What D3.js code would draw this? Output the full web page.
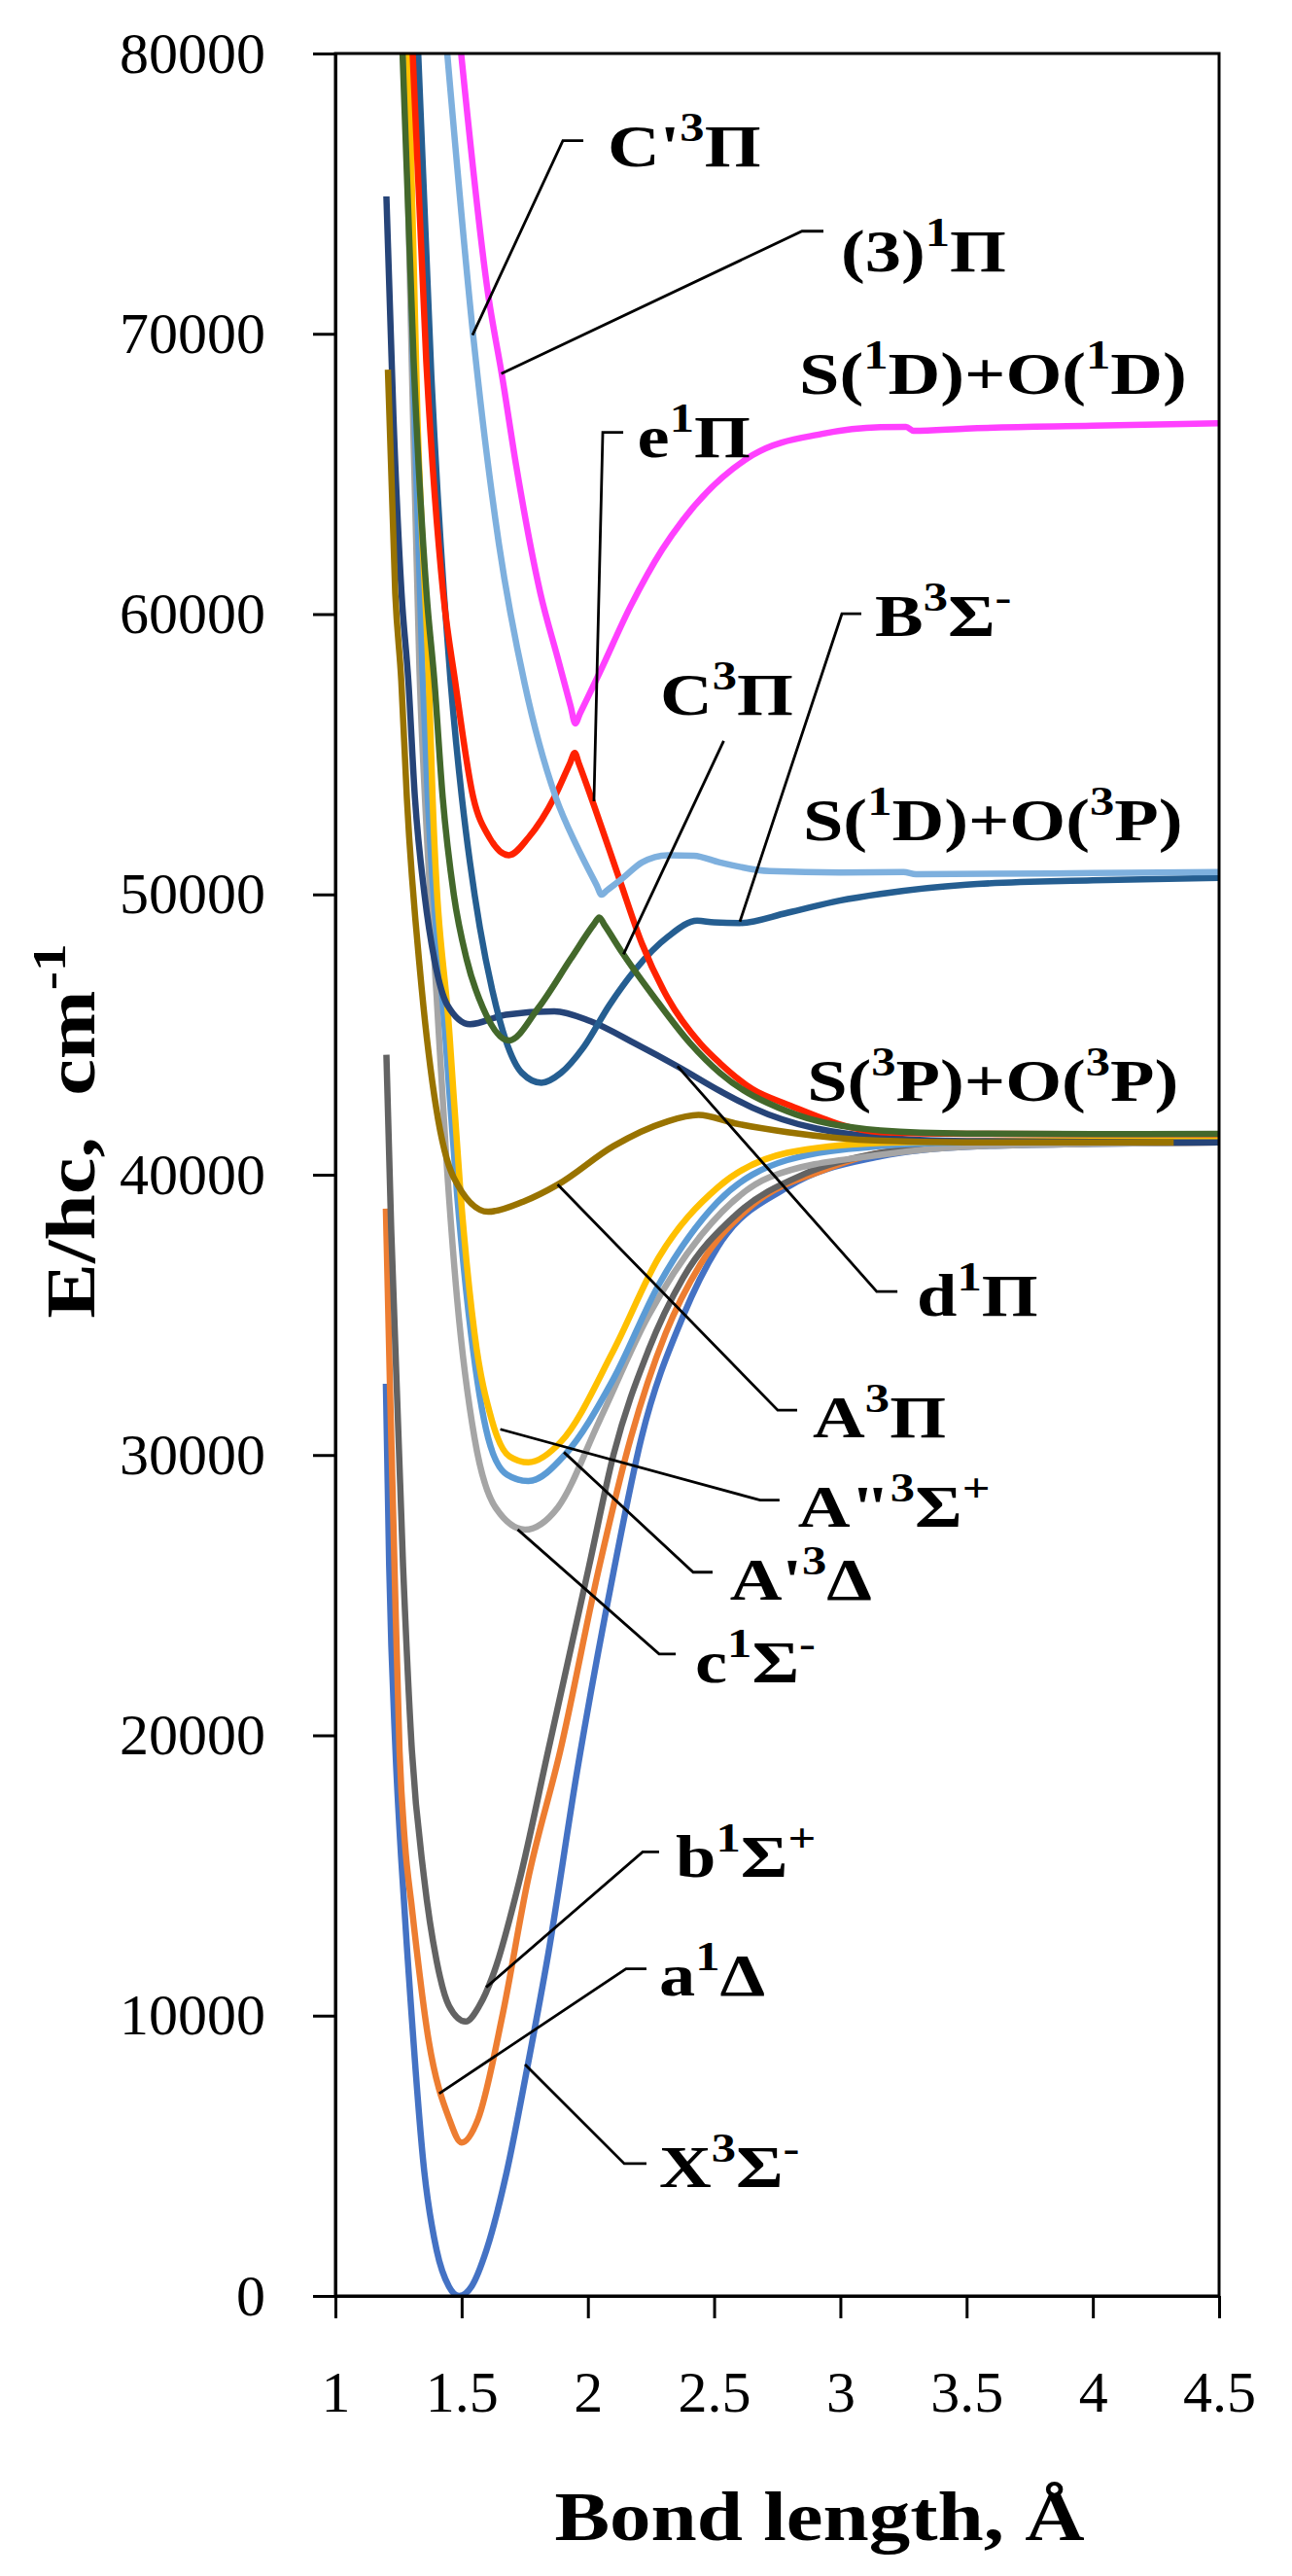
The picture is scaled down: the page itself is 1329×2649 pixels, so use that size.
<!DOCTYPE html>
<html lang="en">
	<head>
		<meta charset="UTF-8">
		<title>SO potential energy curves</title>
		<script src="https://cdnjs.cloudflare.com/ajax/libs/d3/7.8.5/d3.min.js"></script>
		<style>
			body { margin: 0; background: #fff; }
			svg { display: block; }
		</style>
	</head>
	<body>
		<svg id="chart" width="1329" height="2649"></svg>
		<script>
// tick values
var xTicks = [1, 1.5, 2, 2.5, 3, 3.5, 4, 4.5];
var yTicks = [0, 10000, 20000, 30000, 40000, 50000, 60000, 70000, 80000];

// [bond length (Å), E/hc (cm-1)]
var X3SigmaMinus = [[1.2,32540],[1.213,26050],[1.238,19460],[1.26,15700],[1.287,11950],[1.352,4440],[1.401,1630],[1.45,330],[1.49,0],[1.54,350],[1.598,1630],[1.679,4440],[1.761,8190],[1.843,12200],[1.957,18700],[2.101,25800],[2.212,30610],[2.377,34950],[2.515,37430],[2.789,39550],[3.159,40660],[3.5,41000],[4.0,41100],[4.5,41150]];
var a1Delta = [[1.2,38790],[1.216,32500],[1.234,26050],[1.254,19460],[1.275,16200],[1.303,13840],[1.369,9130],[1.451,6310],[1.5,5470],[1.565,6310],[1.663,10070],[1.761,14780],[1.891,19460],[2.046,26050],[2.17,30610],[2.308,34340],[2.446,36810],[2.652,38920],[2.928,40150],[3.159,40780],[3.5,41050],[4.0,41120],[4.5,41150]];
var b1SigmaPlus = [[1.202,44280],[1.221,38060],[1.268,26050],[1.303,19460],[1.35,15000],[1.401,11950],[1.45,10350],[1.516,9790],[1.57,10350],[1.63,11590],[1.728,14780],[1.843,19460],[2.005,26050],[2.101,29990],[2.239,33720],[2.377,36320],[2.583,38540],[2.858,40030],[3.159,40780],[3.5,41050],[4.0,41120],[4.5,41150]];
var c1SigmaMinus = [[1.275,80000],[1.305,68000],[1.333,58000],[1.36,52500],[1.4,46500],[1.44,40500],[1.482,35570],[1.551,30610],[1.634,28130],[1.751,27340],[1.881,28130],[2.046,31230],[2.239,34950],[2.446,37810],[2.72,39910],[3.159,40710],[3.5,41000],[4.0,41100],[4.5,41150]];
var Ap3Delta = [[1.28,80000],[1.31,68000],[1.345,58000],[1.366,53450],[1.435,45000],[1.482,39290],[1.537,34340],[1.605,30610],[1.68,29300],[1.764,29070],[1.909,30010],[2.101,32710],[2.281,36080],[2.515,39040],[2.789,40520],[3.159,41020],[3.5,41150],[4.0,41180],[4.5,41200]];
var App3SigmaPlus = [[1.29,80000],[1.325,67000],[1.37,57620],[1.385,53450],[1.452,45000],[1.496,39290],[1.551,34340],[1.62,31230],[1.69,29950],[1.764,29740],[1.895,30490],[2.101,33720],[2.281,37050],[2.515,39550],[2.789,40780],[3.159,41140],[3.5,41200],[4.0,41220],[4.5,41230]];
var A3Pi = [[1.208,68720],[1.237,60740],[1.261,57620],[1.283,53450],[1.338,47000],[1.399,42390],[1.468,39910],[1.605,38680],[1.744,39040],[1.881,39650],[2.101,41020],[2.308,41880],[2.438,42130],[2.583,41830],[2.79,41520],[3.159,41210],[3.5,41150],[4.0,41150],[4.32,41150]];
var d1Pi = [[1.202,74900],[1.23,67000],[1.262,60740],[1.289,57620],[1.315,53450],[1.353,49990],[1.392,47680],[1.443,46060],[1.533,45370],[1.675,45710],[1.867,45830],[2.009,45480],[2.189,44670],[2.356,43860],[2.523,42990],[2.652,42390],[3.159,41330],[3.5,41200],[4.0,41170],[4.5,41150]];
var B3SigmaMinus = [[1.328,80000],[1.38,68500],[1.43,60740],[1.456,57620],[1.501,53450],[1.533,51140],[1.572,48830],[1.623,46520],[1.675,44790],[1.739,43630],[1.816,43280],[1.893,43630],[1.983,44550],[2.086,46060],[2.189,47330],[2.317,48490],[2.433,49060],[2.5,49000],[2.6,48980],[2.789,49340],[2.997,49780],[3.159,50020],[3.5,50350],[4.0,50500],[4.5,50590]];
var e1Pi = [[1.306,80000],[1.36,69000],[1.427,60740],[1.474,57620],[1.546,53460],[1.61,52030],[1.687,51400],[1.765,52030],[1.867,53460],[1.93,54700],[1.948,55050],[1.965,54650],[2.022,53230],[2.124,50570],[2.214,48250],[2.317,46290],[2.446,44670],[2.523,43980],[2.652,43050],[2.789,42510],[3.159,41520],[3.5,41460],[4.0,41450],[4.5,41450]];
var C3Pi = [[1.266,80000],[1.31,69000],[1.361,60740],[1.392,57620],[1.425,53460],[1.469,49990],[1.52,47680],[1.585,45940],[1.687,44790],[1.803,45940],[1.932,47700],[2.025,48950],[2.045,49180],[2.065,48920],[2.137,47910],[2.266,46290],[2.407,44670],[2.523,43630],[2.79,42260],[3.159,41580],[3.5,41470],[4.0,41450],[4.5,41460]];
var Cp3Pi = [[1.443,80000],[1.545,70000],[1.648,62480],[1.75,57500],[1.873,53460],[1.957,51710],[2.035,50320],[2.054,49990],[2.075,50140],[2.137,50570],[2.214,51140],[2.317,51400],[2.42,51380],[2.523,51140],[2.72,50830],[3.0,50780],[3.25,50800],[3.3,50720],[4.0,50760],[4.5,50800]];
var third1Pi = [[1.498,80000],[1.605,71400],[1.661,68450],[1.716,65300],[1.812,60740],[1.88,58450],[1.932,56700],[1.95,56100],[1.968,56440],[2.046,57900],[2.17,60300],[2.294,62300],[2.376,63350],[2.652,65670],[2.928,66430],[3.159,66670],[3.26,66680],[3.29,66540],[3.5,66620],[4.0,66720],[4.5,66810]];

// drawing order and colours
var curves = [
	{pts: X3SigmaMinus, color: "#4472c4"},
	{pts: a1Delta, color: "#ed7d31"},
	{pts: b1SigmaPlus, color: "#636363"},
	{pts: c1SigmaMinus, color: "#a5a5a5"},
	{pts: Ap3Delta, color: "#5b9bd5"},
	{pts: App3SigmaPlus, color: "#ffc000"},
	{pts: d1Pi, color: "#264478"},
	{pts: A3Pi, color: "#997300"},
	{pts: B3SigmaMinus, color: "#255e91"},
	{pts: e1Pi, color: "#ff2200"},
	{pts: C3Pi, color: "#43682b"},
	{pts: Cp3Pi, color: "#7eb0de"},
	{pts: third1Pi, color: "#ff40ff"}
];

// labels: text, anchor (data units) and leader polyline (data units)
var labelText = ["C'^{3}Π", "(3)^{1}Π", "S(^{1}D)+O(^{1}D)", "e^{1}Π", "C^{3}Π", "B^{3}Σ^{-}", "S(^{1}D)+O(^{3}P)", "S(^{3}P)+O(^{3}P)", "d^{1}Π", "A^{3}Π", "A\"^{3}Σ^{+}", "A'^{3}Δ", "c^{1}Σ^{-}", "b^{1}Σ^{+}", "a^{1}Δ", "X^{3}Σ^{-}"];
var labelAt = [[2.078,75970],[3.002,72240],[2.837,67860],[2.196,65610],[2.286,56400],[3.137,59220],[2.852,51930],[2.868,42620],[3.303,34970],[2.891,30630],[2.832,27440],[2.562,24840],[2.425,21890],[2.348,14950],[2.282,10730],[2.282,3890]];
var leaders = [
	[[1.982,76890],[1.901,76890],[1.543,69950]],
	[[2.933,73660],[2.848,73660],[1.657,68580]],
	null,
	[[2.14,66480],[2.059,66480],[2.024,53320]],
	[[2.538,55480],[2.141,47860]],
	[[3.083,60010],[3.006,60010],[2.602,49030]],
	null,
	null,
	[[3.226,35830],[3.144,35830],[2.355,43870]],
	[[2.829,31600],[2.752,31600],[1.88,39650]],
	[[2.759,28390],[2.682,28390],[1.653,30920]],
	[[2.494,25820],[2.417,25820],[1.905,30100]],
	[[2.348,22900],[2.282,22900],[1.722,27340]],
	[[2.282,15840],[2.217,15840],[1.597,11010]],
	[[2.232,11670],[2.151,11670],[1.411,7220]],
	[[2.232,4720],[2.144,4720],[1.751,8260]]
];

function makeChart() {
	var svg = d3.select("#chart");
	var left = 345, right = 1254, top = 55, bottom = 2361;
	var serif = "'Liberation Serif', 'DejaVu Serif', serif";

	var scX = d3.scaleLinear().domain([1, 4.5]).range([left, right]);
	var scY = d3.scaleLinear().domain([0, 80000]).range([bottom, top]);

	svg.append("defs").append("clipPath").attr("id", "plot")
		.append("rect").attr("x", left).attr("y", top)
		.attr("width", right - left).attr("height", bottom - top);

	// write text with ^{...} superscripts
	var richText = (g, str, fs) => {
		var t = g.append("text").attr("font-size", fs);
		var up = false;
		str.split(/(\^\{[^}]*\})/).forEach(p => {
			if (!p) return;
			if (p[0] == "^") {
				t.append("tspan").text(p.slice(2, -1))
					.attr("font-size", fs * 0.68).attr("dy", -fs * 0.42);
				up = true;
			} else {
				var s = t.append("tspan").text(p);
				if (up) { s.attr("dy", fs * 0.42); up = false; }
			}
		});
		return t;
	};

	// curves
	var lnMkr = d3.line().curve(d3.curveMonotoneX)
		.x(d => scX(d[0]))
		.y(d => scY(d[1]));

	var gC = svg.append("g").attr("clip-path", "url(#plot)");
	curves.forEach(c => {
		gC.append("path").attr("d", lnMkr(c.pts))
			.attr("fill", "none").attr("stroke", c.color)
			.attr("stroke-width", 6.5).attr("stroke-linejoin", "round");
	});

	// frame
	svg.append("rect").attr("x", left).attr("y", top)
		.attr("width", right - left).attr("height", bottom - top)
		.attr("fill", "none").attr("stroke", "#000").attr("stroke-width", 3);

	// axes
	var axY = svg.append("g").attr("transform", `translate(${left},0)`)
		.call(d3.axisLeft(scY).tickValues(yTicks).tickSize(23).tickSizeOuter(0)
			.tickPadding(49).tickFormat(d3.format("d")));
	var axX = svg.append("g").attr("transform", `translate(0,${bottom})`)
		.call(d3.axisBottom(scX).tickValues(xTicks).tickSize(23).tickSizeOuter(0)
			.tickPadding(53).tickFormat(d => d));
	[axY, axX].forEach(ax => {
		ax.attr("font-family", serif).attr("font-size", 60);
		ax.selectAll("path, line").attr("stroke", "#000").attr("stroke-width", 3);
		ax.selectAll("text").attr("fill", "#000");
	});

	// leader lines
	var ldMkr = d3.line().x(d => scX(d[0])).y(d => scY(d[1]));
	leaders.forEach(l => {
		if (!l) return;
		svg.append("path").attr("d", ldMkr(l)).attr("fill", "none")
			.attr("stroke", "#000").attr("stroke-width", 2.8);
	});

	// state labels
	var gL = svg.append("g").attr("font-family", serif).attr("font-weight", "bold");
	labelText.forEach((s, i) => {
		richText(gL, s, 62)
			.attr("transform", `translate(${scX(labelAt[i][0])},${scY(labelAt[i][1])}) scale(1.2,1)`);
	});

	// axis titles
	var gT = svg.append("g").attr("font-family", serif).attr("font-weight", "bold")
		.attr("text-anchor", "middle");
	richText(gT, "Bond length, Å", 72)
		.attr("transform", "translate(843,2612) scale(1.18,1)");
	richText(gT, "E/hc,\u00a0\u00a0cm^{-1}", 72)
		.attr("transform", "translate(97,1163) rotate(-90) scale(1.18,1)");
}
makeChart();
		</script>
	</body>
</html>
